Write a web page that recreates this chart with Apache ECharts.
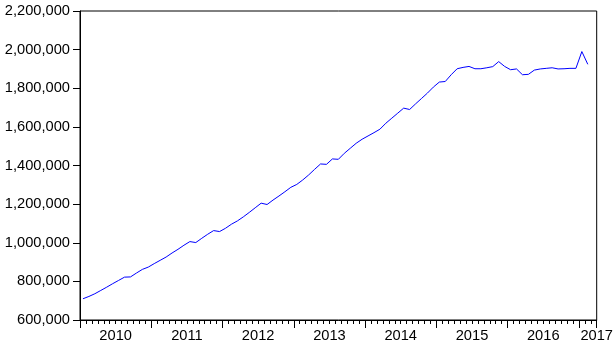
<!DOCTYPE html>
<html>
<head>
<meta charset="utf-8">
<script src="https://cdn.jsdelivr.net/npm/echarts@6/dist/echarts.min.js"></script>
<style>
html,body{margin:0;padding:0;background:#fff;}
#chart{width:616px;height:349px;}
</style>
</head>
<body>
<div id="chart"></div>
<script>
// Monthly observations, 2010M01 .. 2017M02
var yearLabels = ['2010','2011','2012','2013','2014','2015','2016','2017'];
var values = [
  710000, 722000, 736000, 753000, 770000, 788000, 805000, 822000, 823000, 843000, 862000, 874000,
  892000, 909000, 926000, 947000, 966000, 987000, 1006000, 1001000, 1023000, 1044000, 1063000, 1058000,
  1075000, 1096000, 1113000, 1134000, 1157000, 1181000, 1205000, 1198000, 1221000, 1242000, 1264000, 1287000,
  1302000, 1325000, 1351000, 1380000, 1408000, 1406000, 1434000, 1432000, 1463000, 1489000, 1515000, 1536000,
  1553000, 1570000, 1588000, 1619000, 1645000, 1671000, 1697000, 1690000, 1719000, 1747000, 1775000, 1806000,
  1832000, 1835000, 1870000, 1901000, 1908000, 1913000, 1901000, 1901000, 1906000, 1912000, 1938000, 1913000,
  1896000, 1900000, 1870000, 1872000, 1894000, 1900000, 1903000, 1906000, 1900000, 1901000, 1903000, 1903000,
  1990000, 1924000
];
var totalMonths = 87; // axis spans 2010M01 .. 2017M03
var yMin = 600000, yMax = 2200000, yStep = 200000;

var points = values.map(function(v, i){ return [i + 0.5, v]; });

var font = 'Arial, "Liberation Sans", sans-serif';
var fs = 14.67;

var chart = echarts.init(document.getElementById('chart'), null, {renderer:'canvas'});
chart.setOption({
  animation: false,
  backgroundColor: '#fff',
  grid: {left: 80, right: 18, top: 11, bottom: 29, show: true, borderColor: '#000', borderWidth: 1, backgroundColor: 'transparent'},
  xAxis: [
    {
      type: 'value', min: 0, max: totalMonths, interval: 1, position: 'bottom',
      axisLine: {show: true, lineStyle: {color: '#000', width: 1}},
      axisTick: {show: true, length: 4, lineStyle: {color: '#000', width: 1}},
      axisLabel: {show: false}, splitLine: {show: false}
    },
    {
      type: 'value', min: 0, max: totalMonths, interval: 12, position: 'bottom',
      axisLine: {show: false},
      axisTick: {show: true, length: 8, lineStyle: {color: '#000', width: 1}},
      axisLabel: {show: false}, splitLine: {show: false}
    },
    {
      type: 'value', min: 0, max: totalMonths, interval: 6, position: 'bottom',
      axisLine: {show: false}, axisTick: {show: false}, splitLine: {show: false},
      axisLabel: {
        show: true, margin: 8, color: '#000', fontSize: fs, fontFamily: font,
        showMinLabel: true, showMaxLabel: true,
        formatter: function(v){
          if (v === totalMonths) return yearLabels[yearLabels.length - 1];
          if (v % 12 === 6) return yearLabels[(v - 6) / 12] || '';
          return '';
        }
      }
    }
  ],
  yAxis: {
    type: 'value', min: yMin, max: yMax, interval: yStep,
    axisLine: {show: true, lineStyle: {color: '#000', width: 1}},
    axisTick: {show: true, length: 7, lineStyle: {color: '#000', width: 1}},
    splitLine: {show: false},
    axisLabel: {
      margin: 10, color: '#000', fontSize: fs, fontFamily: font,
      formatter: function(v){ return v.toString().replace(/\B(?=(\d{3})+(?!\d))/g, ','); }
    }
  },
  series: [{
    type: 'line', xAxisIndex: 0, data: points, showSymbol: false, symbol: 'none',
    lineStyle: {color: '#0000ff', width: 1}, silent: true
  }]
});
</script>
</body>
</html>
